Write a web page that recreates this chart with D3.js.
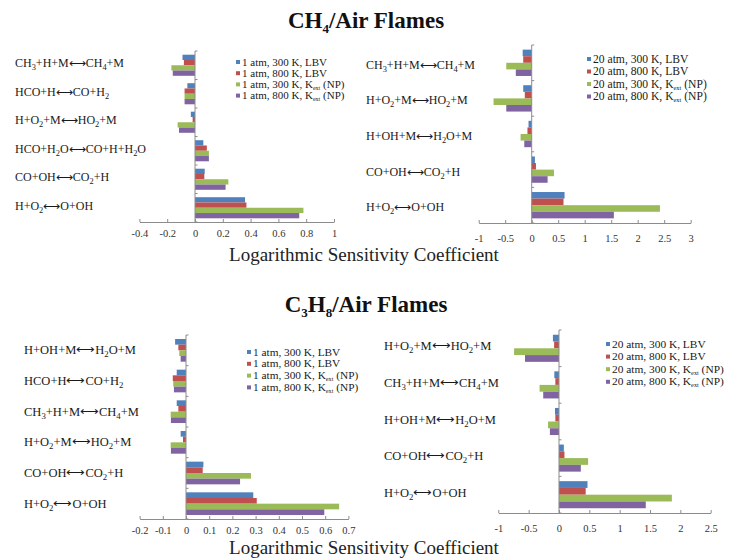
<!DOCTYPE html>
<html>
<head>
<meta charset="utf-8">
<script src="https://cdn.jsdelivr.net/npm/d3@7/dist/d3.min.js"></script>
<style>
  html, body { margin: 0; padding: 0; background: #fff; }
  svg { display: block; font-family: "Liberation Serif", "Times New Roman", serif; }
</style>
</head>
<body>
<svg id="chart" width="733" height="559"></svg>
<script>
// ---- Data: logarithmic sensitivity coefficients ----
const seriesColors = ["#4F81BD", "#C0504D", "#9BBB59", "#8064A2"];

// CH4/air, 1 atm
const ch4Atm1Reactions = ["CH_3+H+M⟷CH_4+M", "HCO+H⟷CO+H_2", "H+O_2+M⟷HO_2+M", "HCO+H_2O⟷CO+H+H_2O", "CO+OH⟷CO_2+H", "H+O_2⟷O+OH"];
const ch4Atm1Legend = ["1 atm, 300 K, LBV", "1 atm, 800 K, LBV", "1 atm, 300 K, K_ext (NP)", "1 atm, 800 K, K_ext (NP)"];
const ch4Atm1_300LBV  = [-0.09, -0.055, -0.03, 0.06, 0.07, 0.36];
const ch4Atm1_800LBV  = [-0.08, -0.075, -0.017, 0.085, 0.067, 0.37];
const ch4Atm1_300Kext = [-0.17, -0.075, -0.125, 0.10, 0.24, 0.78];
const ch4Atm1_800Kext = [-0.16, -0.075, -0.115, 0.10, 0.22, 0.75];
const ch4Atm1Ticks = [-0.4, -0.2, 0, 0.2, 0.4, 0.6, 0.8, 1];

// CH4/air, 20 atm
const ch4Atm20Reactions = ["CH_3+H+M⟷CH_4+M", "H+O_2+M⟷HO_2+M", "H+OH+M⟷H_2O+M", "CO+OH⟷CO_2+H", "H+O_2⟷O+OH"];
const ch4Atm20Legend = ["20 atm, 300 K, LBV", "20 atm, 800 K, LBV", "20 atm, 300 K, K_ext (NP)", "20 atm, 800 K, K_ext (NP)"];
const ch4Atm20_300LBV  = [-0.17, -0.16, -0.06, 0.06, 0.62];
const ch4Atm20_800LBV  = [-0.16, -0.13, -0.08, 0.08, 0.60];
const ch4Atm20_300Kext = [-0.48, -0.72, -0.21, 0.42, 2.42];
const ch4Atm20_800Kext = [-0.30, -0.48, -0.14, 0.30, 1.55];
const ch4Atm20Ticks = [-1, -0.5, 0, 0.5, 1, 1.5, 2, 2.5, 3];

// C3H8/air, 1 atm
const c3h8Atm1Reactions = ["H+OH+M⟷H_2O+M", "HCO+H⟷CO+H_2", "CH_3+H+M⟷CH_4+M", "H+O_2+M⟷HO_2+M", "CO+OH⟷CO_2+H", "H+O_2⟷O+OH"];
const c3h8Atm1Legend = ["1 atm, 300 K, LBV", "1 atm, 800 K, LBV", "1 atm, 300 K, K_ext (NP)", "1 atm, 800 K, K_ext (NP)"];
const c3h8Atm1_300LBV  = [-0.047, -0.04, -0.04, -0.023, 0.075, 0.29];
const c3h8Atm1_800LBV  = [-0.033, -0.057, -0.033, -0.013, 0.072, 0.305];
const c3h8Atm1_300Kext = [-0.029, -0.055, -0.066, -0.066, 0.28, 0.66];
const c3h8Atm1_800Kext = [-0.023, -0.052, -0.065, -0.065, 0.233, 0.596];
const c3h8Atm1Ticks = [-0.2, -0.1, 0, 0.1, 0.2, 0.3, 0.4, 0.5, 0.6, 0.7];

// C3H8/air, 20 atm
const c3h8Atm20Reactions = ["H+O_2+M⟷HO_2+M", "CH_3+H+M⟷CH_4+M", "H+OH+M⟷H_2O+M", "CO+OH⟷CO_2+H", "H+O_2⟷O+OH"];
const c3h8Atm20Legend = ["20 atm, 300 K, LBV", "20 atm, 800 K, LBV", "20 atm, 300 K, K_ext (NP)", "20 atm, 800 K, K_ext (NP)"];
const c3h8Atm20_300LBV  = [-0.10, -0.077, -0.066, 0.08, 0.47];
const c3h8Atm20_800LBV  = [-0.08, -0.06, -0.06, 0.09, 0.44];
const c3h8Atm20_300Kext = [-0.74, -0.32, -0.18, 0.48, 1.86];
const c3h8Atm20_800Kext = [-0.56, -0.26, -0.15, 0.36, 1.43];
const c3h8Atm20Ticks = [-1, -0.5, 0, 0.5, 1, 1.5, 2, 2.5];

// ---- Drawing ----
const svg = d3.select("#chart");

// Writes a string into a text element, turning "_xyz" into subscripts.
function richText(sel, str, subSize, subShift) {
  const parts = str.split(/_([0-9a-z]+)/);
  parts.forEach((p, i) => {
    if (p === "") return;
    if (i % 2 === 1) {
      sel.append("tspan").attr("font-size", subSize).attr("dy", subShift).text(p);
    } else {
      const t = sel.append("tspan").text(p);
      if (i > 0) t.attr("dy", -subShift);
    }
  });
}

function drawPanel(cfg) {
  const g = svg.append("g");
  const x = d3.scaleLinear().domain(cfg.domain).range(cfg.xRange);
  const y = d3.scaleBand().domain(d3.range(cfg.reactions.length))
    .range([cfg.top, cfg.bottom]).paddingInner(cfg.pad).paddingOuter(cfg.pad / 2);
  const ys = d3.scaleBand().domain(d3.range(cfg.series.length)).range([0, y.bandwidth()]);

  // bars
  cfg.series.forEach((vals, si) => {
    g.append("g").selectAll("rect").data(vals).join("rect")
      .attr("x", d => Math.min(x(0), x(d)))
      .attr("width", d => Math.abs(x(d) - x(0)))
      .attr("y", (d, i) => y(i) + ys(si))
      .attr("height", ys.bandwidth())
      .attr("fill", seriesColors[si]);
  });

  // x axis
  const xAxis = d3.axisBottom(x).tickValues(cfg.ticks).tickSize(-3).tickSizeOuter(0)
    .tickFormat(d => String(+d.toFixed(2)));
  const xa = g.append("g").attr("transform", `translate(0,${cfg.bottom})`).call(xAxis);
  xa.select(".domain").attr("stroke", "#8c8c8c");
  xa.selectAll(".tick line").attr("stroke", "#8c8c8c");
  xa.selectAll(".tick text").attr("y", cfg.tickLabelDy).attr("dy", "0.35em")
    .attr("font-family", "Liberation Serif").attr("font-size", 10.5).attr("fill", "#333");

  // y axis at zero, with small ticks at category boundaries
  const x0 = x(0);
  g.append("line").attr("x1", x0).attr("x2", x0).attr("y1", cfg.top).attr("y2", cfg.bottom)
    .attr("stroke", "#8c8c8c");
  g.append("g").selectAll("line").data(d3.range(cfg.reactions.length + 1)).join("line")
    .attr("x1", x0).attr("x2", x0 + 2.5)
    .attr("y1", i => cfg.top + i * y.step()).attr("y2", i => cfg.top + i * y.step())
    .attr("stroke", "#8c8c8c");

  // reaction labels
  cfg.reactions.forEach((r, i) => {
    const t = g.append("text").attr("x", cfg.labelX)
      .attr("y", y(i) + y.bandwidth() / 2 + cfg.labelDy)
      .attr("font-size", cfg.labelSize).attr("fill", "#1a1a1a");
    richText(t, r, cfg.labelSize * 0.7, 3);
  });

  // legend
  cfg.legend.forEach((l, i) => {
    const cy = cfg.legendY + i * cfg.legendStep;
    g.append("rect").attr("x", cfg.legendX).attr("y", cy - 2).attr("width", 4).attr("height", 4)
      .attr("fill", seriesColors[i]);
    const t = g.append("text").attr("x", cfg.legendX + 6).attr("y", cy + 3.5)
      .attr("font-size", cfg.legendSize).attr("fill", "#1a1a1a");
    richText(t, l, cfg.legendSize * 0.55, 2);
  });
}

drawPanel({
  reactions: ch4Atm1Reactions, legend: ch4Atm1Legend, ticks: ch4Atm1Ticks,
  series: [ch4Atm1_300LBV, ch4Atm1_800LBV, ch4Atm1_300Kext, ch4Atm1_800Kext],
  domain: [-0.4, 1], xRange: [139.4, 334], top: 51, bottom: 222, pad: 0.26,
  tickLabelDy: 11, labelX: 15, labelDy: 2, labelSize: 12,
  legendX: 236, legendY: 62, legendStep: 11.2, legendSize: 11
});
drawPanel({
  reactions: ch4Atm20Reactions, legend: ch4Atm20Legend, ticks: ch4Atm20Ticks,
  series: [ch4Atm20_300LBV, ch4Atm20_800LBV, ch4Atm20_300Kext, ch4Atm20_800Kext],
  domain: [-1, 3], xRange: [478.7, 690.7], top: 45, bottom: 223, pad: 0.26,
  tickLabelDy: 15, labelX: 366, labelDy: 6, labelSize: 12,
  legendX: 587, legendY: 59, legendStep: 12.5, legendSize: 11.6
});
drawPanel({
  reactions: c3h8Atm1Reactions, legend: c3h8Atm1Legend, ticks: c3h8Atm1Ticks,
  series: [c3h8Atm1_300LBV, c3h8Atm1_800LBV, c3h8Atm1_300Kext, c3h8Atm1_800Kext],
  domain: [-0.2, 0.7], xRange: [139.6, 348.4], top: 335, bottom: 519, pad: 0.26,
  tickLabelDy: 11, labelX: 24, labelDy: 4, labelSize: 12.5,
  legendX: 247, legendY: 352, legendStep: 11.8, legendSize: 11.3
});
drawPanel({
  reactions: c3h8Atm20Reactions, legend: c3h8Atm20Legend, ticks: c3h8Atm20Ticks,
  series: [c3h8Atm20_300LBV, c3h8Atm20_800LBV, c3h8Atm20_300Kext, c3h8Atm20_800Kext],
  domain: [-1, 2.5], xRange: [498.3, 710.7], top: 330, bottom: 513, pad: 0.26,
  tickLabelDy: 15, labelX: 384, labelDy: 2, labelSize: 12.5,
  legendX: 606, legendY: 344, legendStep: 12.6, legendSize: 11.4
});

// Titles
function title(str, yPos) {
  const t = svg.append("text").attr("x", 366).attr("y", yPos).attr("text-anchor", "middle")
    .attr("font-size", 23).attr("font-weight", "bold").attr("fill", "#111");
  richText(t, str, 13, 5);
}
title("CH_4/Air Flames", 28);
title("C_3H_8/Air Flames", 312);

svg.append("text").attr("x", 364).attr("y", 261).attr("text-anchor", "middle")
  .attr("font-size", 19).attr("fill", "#222").text("Logarithmic Sensitivity Coefficient");
svg.append("text").attr("x", 364).attr("y", 554).attr("text-anchor", "middle")
  .attr("font-size", 19).attr("fill", "#222").text("Logarithmic Sensitivity Coefficient");
</script>
</body>
</html>
